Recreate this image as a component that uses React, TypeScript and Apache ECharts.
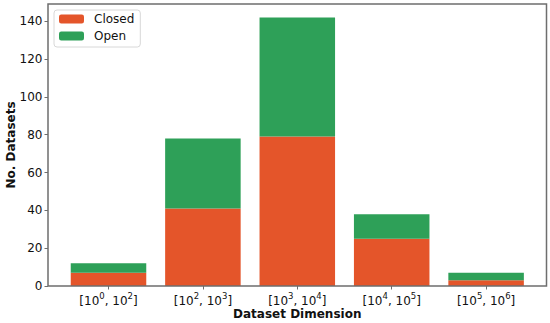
import React, { useEffect, useRef } from "react";
import * as echarts from "echarts";

const categories = ["[10⁰, 10²]", "[10², 10³]", "[10³, 10⁴]", "[10⁴, 10⁵]", "[10⁵, 10⁶]"];
const closedValues = [7, 41, 79, 25, 3];
const openValues = [5, 37, 63, 13, 4];

const FONT = "DejaVu Sans";
const SPINE = "#6e6e6e";
const Y_MAX = 149.1;

const SUP: Record<string, string> = { "⁰": "0", "¹": "1", "²": "2", "³": "3", "⁴": "4", "⁵": "5", "⁶": "6" };

function richLabel(s: string): string {
  let out = "";
  let buf = "";
  for (const ch of s) {
    if (SUP[ch] !== undefined) {
      if (buf) out += `{b|${buf}}`;
      buf = "";
      out += `{sup|${SUP[ch]}}`;
    } else {
      buf += ch;
    }
  }
  if (buf) out += `{b|${buf}}`;
  return out;
}

export default function App() {
  const ref = useRef<HTMLDivElement>(null);
  useEffect(() => {
    if (!ref.current) return;
    const chart = echarts.init(ref.current, undefined, { renderer: "svg" });
    chart.setOption({
      animation: false,
      textStyle: { fontFamily: FONT },
      grid: [
        { left: 61.3, right: 16.7, top: 4, bottom: 37, show: false, outerBoundsMode: "none", containLabel: false },
        {
          left: 48, right: 3.5, top: 4, bottom: 37, show: true, borderColor: SPINE, borderWidth: 1.5,
          outerBoundsMode: "none", containLabel: false, z: 10,
        },
      ],
      legend: {
        orient: "vertical",
        left: 54,
        top: 10,
        itemWidth: 25,
        itemHeight: 9,
        itemGap: 5,
        padding: [3, 6, 5, 5],
        borderColor: "#d8d8d8",
        borderWidth: 1,
        borderRadius: 3,
        backgroundColor: "#fff",
        textStyle: { fontFamily: FONT, fontSize: 12, color: "#111", padding: [0, 0, 0, 5] },
        data: ["Closed", "Open"],
      },
      xAxis: [
        {
          type: "category",
          gridIndex: 0,
          data: categories,
          axisLine: { show: false },
          axisTick: { show: true, alignWithLabel: true, length: 3.5, lineStyle: { color: SPINE } },
          axisLabel: {
            interval: 0,
            margin: 5,
            formatter: (v: string) => richLabel(v),
            rich: {
              b: { fontFamily: FONT, fontSize: 12, color: "#111", lineHeight: 16, verticalAlign: "bottom" },
              sup: { fontFamily: FONT, fontSize: 8.5, color: "#111", lineHeight: 16, verticalAlign: "top" },
            },
          },
          splitLine: { show: false },
        },
        {
          type: "value",
          gridIndex: 1,
          name: "Dataset Dimension",
          nameLocation: "middle",
          nameGap: 22,
          nameMoveOverlap: false,
          nameTextStyle: { fontFamily: FONT, fontWeight: "bold", fontSize: 12, color: "#111" },
          axisLine: { show: false },
          axisTick: { show: false },
          axisLabel: { show: false },
          splitLine: { show: false },
        },
      ],
      yAxis: [
        {
          type: "value",
          gridIndex: 0,
          min: 0,
          max: Y_MAX,
          show: false,
        },
        {
          type: "value",
          gridIndex: 1,
          min: 0,
          max: Y_MAX,
          interval: 20,
          name: "No. Datasets",
          nameLocation: "middle",
          nameGap: 31,
          nameMoveOverlap: false,
          nameTextStyle: { fontFamily: FONT, fontWeight: "bold", fontSize: 12, color: "#111" },
          axisLine: { show: false },
          axisTick: { show: true, length: 3.5, lineStyle: { color: SPINE } },
          axisLabel: { fontFamily: FONT, fontSize: 12, color: "#111", margin: 5.5, showMaxLabel: false },
          splitLine: { show: false },
        },
      ],
      series: [
        {
          name: "Closed",
          type: "bar",
          stack: "total",
          xAxisIndex: 0,
          yAxisIndex: 0,
          barWidth: "80%",
          itemStyle: { color: "#E4552A" },
          data: closedValues,
        },
        {
          name: "Open",
          type: "bar",
          stack: "total",
          xAxisIndex: 0,
          yAxisIndex: 0,
          barWidth: "80%",
          itemStyle: { color: "#2EA058" },
          data: openValues,
        },
      ],
    });
    return () => chart.dispose();
  }, []);
  return <div ref={ref} style={{ width: 550, height: 323, position: "absolute", left: 0, top: 0 }} />;
}
